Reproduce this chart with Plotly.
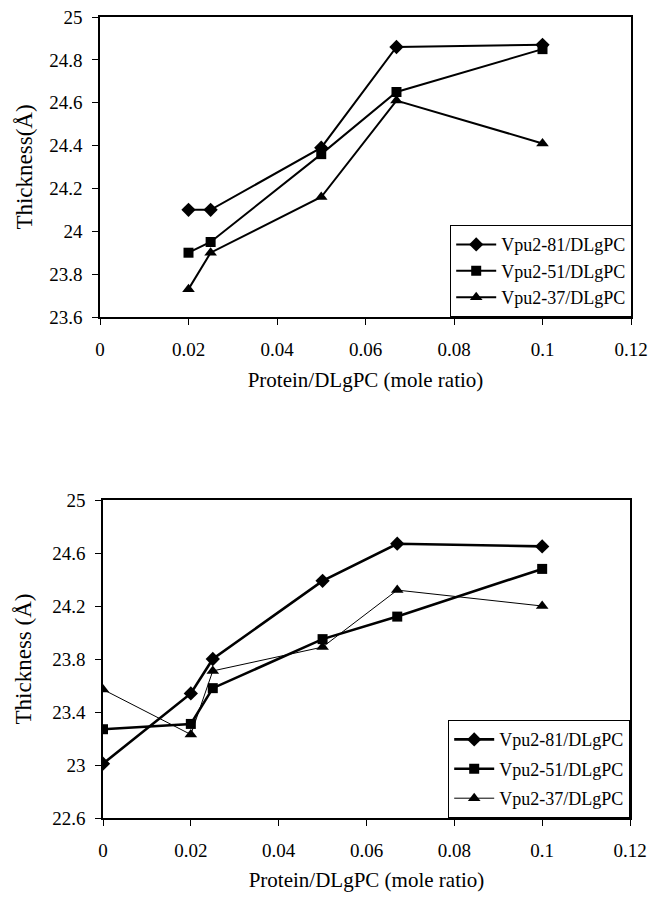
import plotly.graph_objects as go

# ---- data: top panel ----
x_top = [0.02, 0.025, 0.05, 0.067, 0.1]
top_vpu81 = [24.10, 24.10, 24.39, 24.86, 24.87]
top_vpu51 = [23.90, 23.95, 24.36, 24.65, 24.85]
top_vpu37 = [23.73, 23.90, 24.16, 24.61, 24.41]

# ---- data: bottom panel ----
x_bot = [0, 0.02, 0.025, 0.05, 0.067, 0.1]
bot_vpu81 = [23.01, 23.54, 23.80, 24.39, 24.67, 24.65]
bot_vpu51 = [23.27, 23.31, 23.58, 23.95, 24.12, 24.48]
bot_vpu37 = [23.57, 23.23, 23.71, 23.89, 24.32, 24.20]

series_names = ["Vpu2-81/DLgPC", "Vpu2-51/DLgPC", "Vpu2-37/DLgPC"]

x_ticks = [0, 0.02, 0.04, 0.06, 0.08, 0.1, 0.12]
x_ticktext = ["0", "0.02", "0.04", "0.06", "0.08", "0.1", "0.12"]
top_y_ticks = [23.6, 23.8, 24.0, 24.2, 24.4, 24.6, 24.8, 25.0]
top_y_ticktext = ["23.6", "23.8", "24", "24.2", "24.4", "24.6", "24.8", "25"]
bot_y_ticks = [22.6, 23.0, 23.4, 23.8, 24.2, 24.6, 25.0]
bot_y_ticktext = ["22.6", "23", "23.4", "23.8", "24.2", "24.6", "25"]

FONT = "Liberation Serif, Times New Roman, serif"
# the page body has an 8px margin on every side, so the figure is 16px
# smaller and page positions are converted by subtracting the offset
OFF = 8
W, H = 657 - 2 * OFF, 900 - 2 * OFF


def px(xpage):
    return (xpage - OFF) / W


def py(ypage):
    return 1 - (ypage - OFF) / H


markers = ["diamond", "square", "triangle-up"]
msizes = [11, 10, 11]

fig = go.Figure()

top_vals = [top_vpu81, top_vpu51, top_vpu37]
for i, (name, ys) in enumerate(zip(series_names, top_vals)):
    fig.add_trace(go.Scatter(
        x=x_top, y=ys, name=name, mode="lines+markers",
        line=dict(color="black", width=2),
        marker=dict(symbol=markers[i], size=msizes[i], color="black"),
        xaxis="x", yaxis="y", legend="legend", legendgroup="t%d" % i,
    ))

bot_vals = [bot_vpu81, bot_vpu51, bot_vpu37]
bot_widths = [2.6, 2.6, 1]
for i, (name, ys) in enumerate(zip(series_names, bot_vals)):
    fig.add_trace(go.Scatter(
        x=x_bot, y=ys, name=name, mode="lines+markers",
        line=dict(color="black", width=bot_widths[i]),
        marker=dict(symbol=markers[i], size=msizes[i], color="black"),
        xaxis="x2", yaxis="y2", legend="legend2", legendgroup="b%d" % i,
    ))

axis_common = dict(
    showline=True, linecolor="black", linewidth=1.5, mirror=True,
    ticks="outside", ticklen=6, tickcolor="black", tickwidth=1.2,
    showgrid=False, zeroline=False, automargin=False,
    ticklabeloverflow="allow",
    tickfont=dict(family=FONT, size=19, color="black"),
)

fig.update_layout(
    template="none",
    width=W, height=H,
    margin=dict(l=0, r=0, t=0, b=0),
    paper_bgcolor="white", plot_bgcolor="white",
    showlegend=True,
    font=dict(family=FONT, color="black"),
    xaxis=dict(
        **axis_common, domain=[px(100), px(631)], range=[0, 0.12],
        tickvals=x_ticks, ticktext=x_ticktext, anchor="y",
        ticklabelstandoff=8,
        title=dict(text="Protein/DLgPC (mole ratio)", font=dict(family=FONT, size=21), standoff=14),
    ),
    yaxis=dict(
        **axis_common, domain=[py(317), py(17)], range=[23.6, 25.0],
        tickvals=top_y_ticks, ticktext=top_y_ticktext, anchor="x",
        ticklabelstandoff=6,
        title=dict(text="Thickness(Å)", font=dict(family=FONT, size=23), standoff=10),
    ),
    xaxis2=dict(
        **axis_common, domain=[px(103), px(630)], range=[0, 0.12],
        tickvals=x_ticks, ticktext=x_ticktext, anchor="y2",
        ticklabelstandoff=8,
        title=dict(text="Protein/DLgPC (mole ratio)", font=dict(family=FONT, size=21), standoff=14),
    ),
    yaxis2=dict(
        **axis_common, domain=[py(818), py(500)], range=[22.6, 25.0],
        tickvals=bot_y_ticks, ticktext=bot_y_ticktext, anchor="x2",
        ticklabelstandoff=6,
        title=dict(text="Thickness (Å)", font=dict(family=FONT, size=23), standoff=14),
    ),
    legend=dict(
        x=px(632), xanchor="right", y=py(317), yanchor="bottom",
        bgcolor="white", bordercolor="black", borderwidth=1.2,
        font=dict(family=FONT, size=18, color="black"),
        tracegroupgap=0, itemwidth=40,
    ),
    legend2=dict(
        x=px(630), xanchor="right", y=py(818), yanchor="bottom",
        bgcolor="white", bordercolor="black", borderwidth=1.2,
        font=dict(family=FONT, size=18, color="black"),
        tracegroupgap=3, itemwidth=40,
    ),
)

fig.write_html("out.html")
